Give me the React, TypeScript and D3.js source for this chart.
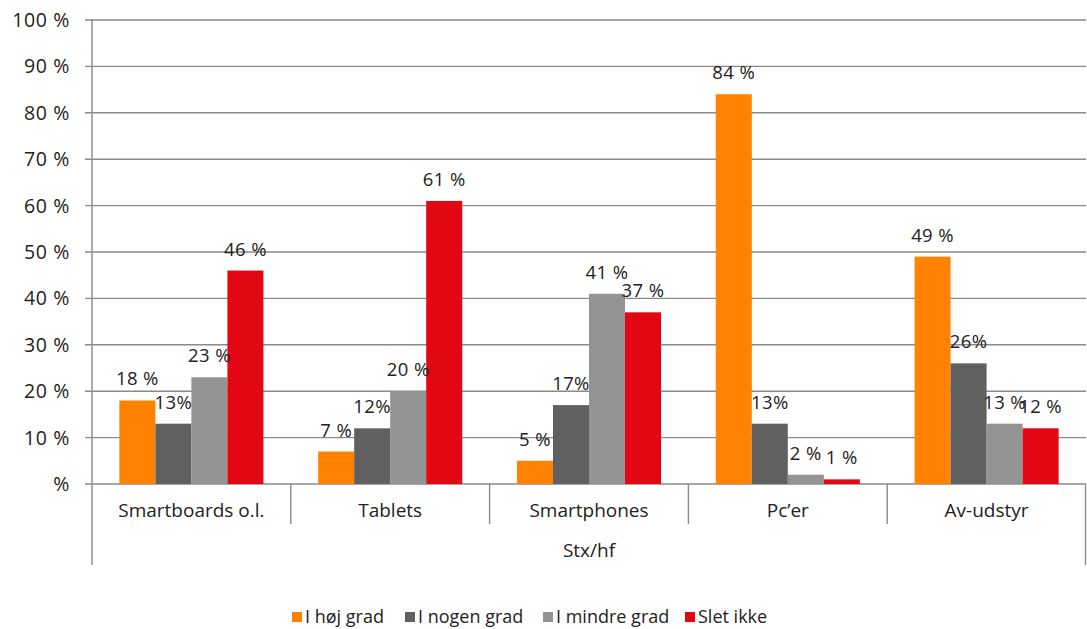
import React from "react";
import * as d3 from "d3";

const categories = ["Smartboards o.l.", "Tablets", "Smartphones", "Pc’er", "Av-udstyr"];
const seriesNames = ["I høj grad", "I nogen grad", "I mindre grad", "Slet ikke"];
const hojGrad = [18, 7, 5, 84, 49];
const nogenGrad = [13, 12, 17, 13, 26];
const mindreGrad = [23, 20, 41, 2, 13];
const sletIkke = [46, 61, 37, 1, 12];
const seriesValues = [hojGrad, nogenGrad, mindreGrad, sletIkke];
const seriesColors = ["#FF8300", "#606060", "#939393", "#E30613"];
const labelSep = [" ", "", " ", " "];
const yTicks = [0, 10, 20, 30, 40, 50, 60, 70, 80, 90, 100];
const groupTitle = "Stx/hf";

const W = 1087;
const H = 629;
const FONT = "'Open Sans', 'Noto Sans', sans-serif";

export default function App() {
  const left = 92;
  const right = 1086;
  const top = 20;
  const bottom = 484;

  const y = d3.scaleLinear().domain([0, 100]).range([bottom, top]);
  const x0 = d3.scaleBand<string>().domain(categories).range([left, right]).paddingInner(0).paddingOuter(0);
  const bw = x0.bandwidth();
  const x1 = d3.scaleBand<string>().domain(seriesNames).range([0, bw]).paddingInner(0).paddingOuter(0.76);

  const grid = "#8a8a8a";
  const legendX = [292, 405, 543, 685];

  return (
    <svg width={W} height={H} style={{ position: "absolute", left: 0, top: 0, background: "#fff" }} fontFamily={FONT}>
      {yTicks.map((t) => (
        <g key={t}>
          <line x1={85} x2={right} y1={y(t)} y2={y(t)} stroke={grid} strokeWidth={1.4} />
          <text x={70} y={y(t)} dy="0.36em" textAnchor="end" fontSize={19.5} fill="#222" letterSpacing={0.6}>
            {t === 0 ? "%" : `${t} %`}
          </text>
        </g>
      ))}
      {categories.map((c, ci) => (
        <g key={c} transform={`translate(${x0(c)},0)`}>
          {seriesNames.map((s, si) => {
            const v = seriesValues[si][ci];
            return (
              <rect key={s} x={x1(s)} y={y(v)} width={x1.bandwidth()} height={y(0) - y(v)} fill={seriesColors[si]} />
            );
          })}
          {seriesNames.map((s, si) => {
            const v = seriesValues[si][ci];
            return (
              <text key={s + "l"} x={(x1(s) as number) + x1.bandwidth() / 2} y={y(v) - 15} textAnchor="middle" fontSize={18.5} fill="#222" letterSpacing={0.4}>
                {`${v}${labelSep[si]}%`}
              </text>
            );
          })}
        </g>
      ))}
      <line x1={left} x2={left} y1={top} y2={565} stroke={grid} strokeWidth={1.4} />
      <line x1={right - 0.5} x2={right - 0.5} y1={bottom} y2={565} stroke={grid} strokeWidth={1.4} />
      {categories.slice(1).map((c) => (
        <line key={c} x1={x0(c)} x2={x0(c)} y1={bottom} y2={524} stroke={grid} strokeWidth={1.4} />
      ))}
      {categories.map((c) => (
        <text key={c} x={(x0(c) as number) + bw / 2} y={517} textAnchor="middle" fontSize={19} fill="#222">
          {c}
        </text>
      ))}
      <text x={(left + right) / 2} y={557} textAnchor="middle" fontSize={19} fill="#222">
        {groupTitle}
      </text>
      {seriesNames.map((s, i) => (
        <g key={s}>
          <rect x={legendX[i]} y={612} width={10} height={10} fill={seriesColors[i]} />
          <text x={legendX[i] + 13} y={623} fontSize={18} fill="#222">
            {s}
          </text>
        </g>
      ))}
    </svg>
  );
}
